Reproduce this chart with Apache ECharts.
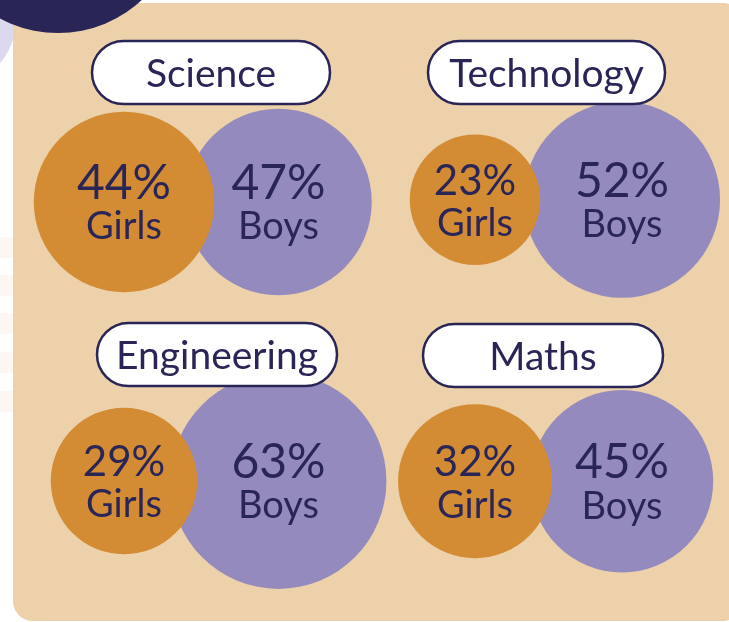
<!DOCTYPE html>
<html>
<head>
<meta charset="utf-8">
<script src="https://cdn.jsdelivr.net/npm/echarts@6/dist/echarts.min.js"></script>
<style>
  html, body { margin: 0; padding: 0; background: #ffffff; }
  #chart { width: 729px; height: 622px; }
</style>
</head>
<body>
<div id="chart"></div>
<script>
// STEM share by gender
const subjects = ['Science', 'Technology', 'Engineering', 'Maths'];
const groups = ['Girls', 'Boys'];
const girls = [44, 23, 29, 32];
const boys = [47, 52, 63, 45];

const navy = '#2a2557';
const orange = '#d38b34';
const purple = '#958abd';
const beige = '#ecd1aa';
const font = 'Lato';

const chart = echarts.init(document.getElementById('chart'));

// left column holds Science + Engineering, right column Technology + Maths
const columns = [[0, 2], [1, 3]];

const grids = [
  { left: 46.75, width: 309, top: 62.5, height: 558 },
  { left: 401.5, width: 294, top: 59, height: 572 }
];

function circleSize(val) {
  // area grows with the percentage
  return 27.2 * Math.sqrt(val[2]);
}

const labelRich = {
  vl: { fontSize: 48, lineHeight: 44, color: navy, fontFamily: font, padding: [0, 0, 3, 0] },
  vs: { fontSize: 42, lineHeight: 42, color: navy, fontFamily: font, padding: [0, 0, 3, 0] },
  n: { fontSize: 38, lineHeight: 40, color: navy, fontFamily: font }
};

const series = [];
columns.forEach(function (col, gi) {
  const boysData = col.map(function (si, row) { return [1, row, boys[si]]; });
  const girlsData = col.map(function (si, row) { return [0, row, girls[si]]; });
  [[boysData, purple, 'Boys'], [girlsData, orange, 'Girls']].forEach(function (s) {
    series.push({
      type: 'scatter',
      name: s[2],
      xAxisIndex: gi,
      yAxisIndex: gi,
      data: s[0],
      symbol: 'circle',
      symbolSize: circleSize,
      itemStyle: { color: s[1], opacity: 1 },
      emphasis: { disabled: true },
      label: {
        show: true,
        position: 'inside',
        offset: [0, 3],
        formatter: function (p) {
          const v = p.value[2];
          return '{' + (v < 35 ? 'vs' : 'vl') + '|' + v + '%}\n{n|' + groups[p.value[0]] + '}';
        },
        rich: labelRich
      }
    });
  });
});

// pill headers
const pills = [
  { x: 92, y: 41, w: 238 },
  { x: 428, y: 41, w: 237 },
  { x: 97, y: 323, w: 240 },
  { x: 423, y: 324, w: 240 }
];

const graphics = [
  { type: 'circle', shape: { cx: -50, cy: 20, r: 66 }, style: { fill: '#dcd9ee' }, z: 0 },
  { type: 'rect', shape: { x: 13, y: 3, width: 730, height: 618, r: 20 }, style: { fill: beige }, z: 1 },
  { type: 'circle', shape: { cx: 58, cy: -90, r: 123 }, style: { fill: navy }, z: 2 }
];
[237, 275, 313, 352, 391].forEach(function (y) {
  graphics.push({ type: 'rect', shape: { x: -20, y: y, width: 40, height: 21, r: 10 }, style: { fill: '#fcf7f2' }, z: 0 });
});
pills.forEach(function (p, i) {
  graphics.push({
    type: 'rect',
    shape: { x: p.x, y: p.y, width: p.w, height: 63, r: 31.5 },
    style: { fill: '#ffffff', stroke: navy, lineWidth: 2.5 },
    z: 10
  });
  graphics.push({
    type: 'text',
    x: p.x + p.w / 2,
    y: p.y + 33,
    style: {
      text: subjects[i],
      fill: navy,
      font: '39px ' + font,
      align: 'center',
      verticalAlign: 'middle',
      textAlign: 'center',
      textVerticalAlign: 'middle'
    },
    z: 11
  });
});

const option = {
  animation: false,
  backgroundColor: '#ffffff',
  graphic: { elements: graphics },
  grid: grids,
  xAxis: grids.map(function (g, i) {
    return { type: 'category', gridIndex: i, data: groups, show: false };
  }),
  yAxis: columns.map(function (col, i) {
    return { type: 'category', gridIndex: i, inverse: true, show: false,
      data: col.map(function (si) { return subjects[si]; }) };
  }),
  series: series
};

chart.setOption(option);
</script>
</body>
</html>
